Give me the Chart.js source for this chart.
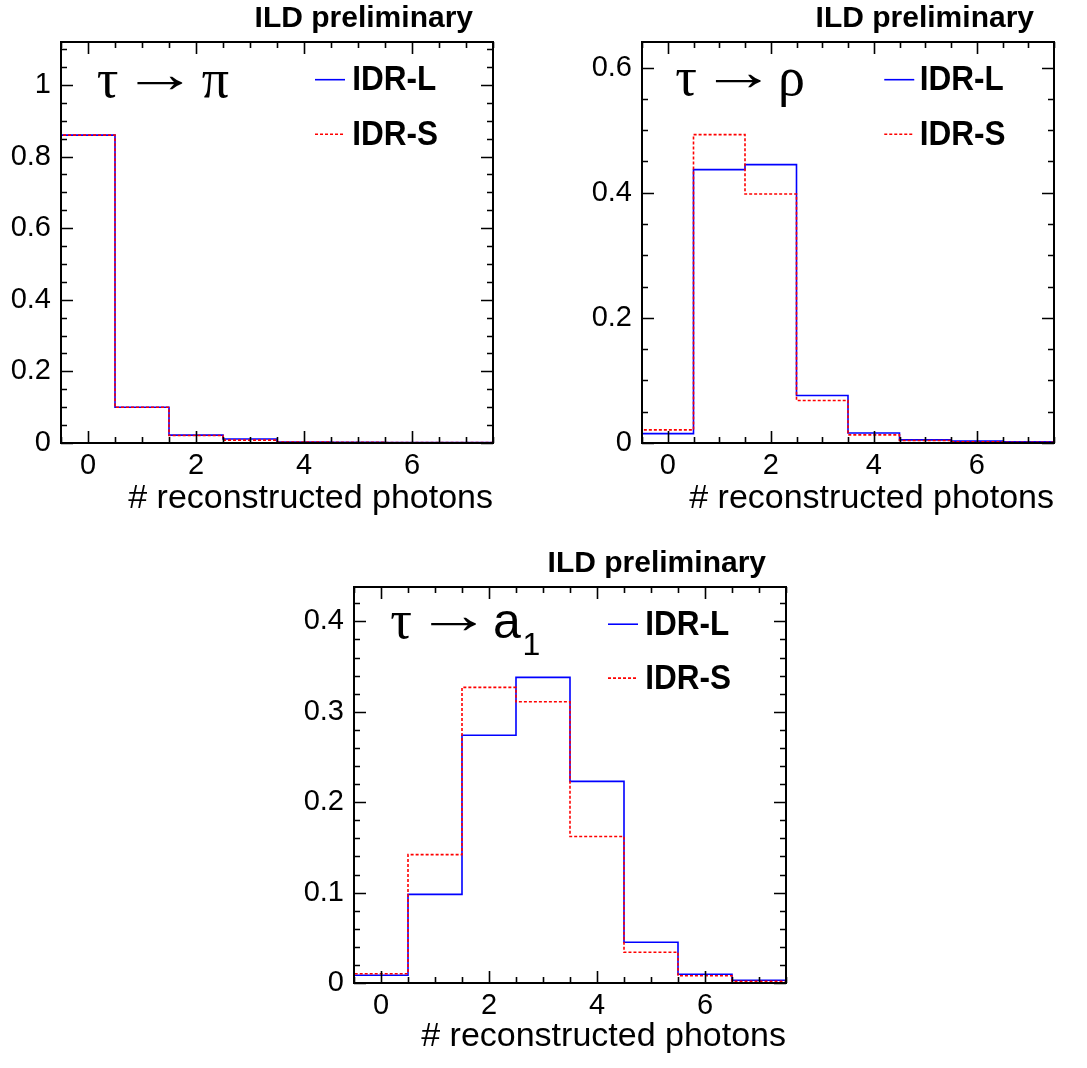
<!DOCTYPE html>
<html>
<head>
<meta charset="utf-8">
<script src="https://cdn.jsdelivr.net/npm/chart.js"></script>
<style>
  body { margin: 0; background: #fff; }
  #page { position: relative; width: 1087px; height: 1068px; background: #fff; }
  .panel { position: absolute; }
</style>
</head>
<body>
<div id="page">
  <div class="panel" style="left:0px;top:0px;width:520px;height:530px"><canvas id="piChart"></canvas></div>
  <div class="panel" style="left:560px;top:0px;width:527px;height:530px"><canvas id="rhoChart"></canvas></div>
  <div class="panel" style="left:280px;top:540px;width:527px;height:528px"><canvas id="a1Chart"></canvas></div>
</div>
<script>
// bins: number of reconstructed photons
const binCenters = [0, 1, 2, 3, 4, 5, 6, 7];
const xTickLabels = [0, 2, 4, 6];

// tau -> pi
const piIdrL = [0.860, 0.100, 0.022, 0.011, 0.003, 0.002, 0.001, 0.001];
const piIdrS = [0.860, 0.100, 0.021, 0.008, 0.003, 0.002, 0.001, 0.001];
const piYTicks = [0, 0.2, 0.4, 0.6, 0.8, 1];

// tau -> rho
const rhoIdrL = [0.015, 0.437, 0.445, 0.076, 0.016, 0.005, 0.003, 0.002];
const rhoIdrS = [0.021, 0.493, 0.398, 0.068, 0.013, 0.004, 0.002, 0.001];
const rhoYTicks = [0, 0.2, 0.4, 0.6];

// tau -> a1
const a1IdrL = [0.0085, 0.098, 0.274, 0.338, 0.223, 0.045, 0.0096, 0.003];
const a1IdrS = [0.0103, 0.142, 0.327, 0.311, 0.162, 0.034, 0.008, 0.002];
const a1YTicks = [0, 0.1, 0.2, 0.3, 0.4];

const seriesNames = ['IDR-L', 'IDR-S'];

// histogram outline: start at left edge of first bin, step through bins, drop at the end
function histPoints(values) {
  const pts = [{ x: binCenters[0] - 0.5, y: 0 }];
  values.forEach((v, i) => pts.push({ x: binCenters[i] - 0.5, y: v }));
  pts.push({ x: binCenters[binCenters.length - 1] + 0.5, y: 0 });
  return pts;
}

const SANS = '"Liberation Sans", Arial, sans-serif';
const SERIF = '"Liberation Serif", "DejaVu Serif", serif';

// ROOT-like frame, inside ticks, labels and legend
const rootFrame = {
  id: 'rootFrame',
  afterDraw(chart, args, opts) {
    const ctx = chart.ctx;
    const a = chart.chartArea;
    const xs = chart.scales.x, ys = chart.scales.y;
    const W = a.right - a.left, H = a.bottom - a.top;
    ctx.save();
    ctx.strokeStyle = '#000';
    ctx.lineWidth = 1.6;
    ctx.beginPath();
    // x ticks (minor every 0.5, major on labels)
    for (let v = xs.min; v <= xs.max + 1e-9; v += opts.xMinor) {
      const px = Math.round(xs.getPixelForValue(v)) + 0.5;
      const major = xTickLabels.some(t => Math.abs(t - v) < 1e-6);
      const len = major ? 12 : 6;
      ctx.moveTo(px, a.bottom); ctx.lineTo(px, a.bottom - len);
      ctx.moveTo(px, a.top); ctx.lineTo(px, a.top + len);
    }
    for (let v = 0; v <= ys.max + 1e-9; v += opts.yMinor) {
      const py = Math.round(ys.getPixelForValue(v)) + 0.5;
      const major = opts.yTicks.some(t => Math.abs(t - v) < 1e-6);
      const len = major ? 12 : 6;
      ctx.moveTo(a.left, py); ctx.lineTo(a.left + len, py);
      ctx.moveTo(a.right, py); ctx.lineTo(a.right - len, py);
    }
    ctx.stroke();
    ctx.lineWidth = 2;
    ctx.strokeRect(a.left, a.top, W, H);

    // header
    ctx.fillStyle = '#000';
    ctx.font = 'bold 30px ' + SANS;
    ctx.textAlign = 'right';
    ctx.textBaseline = 'alphabetic';
    ctx.fillText('ILD preliminary', a.right - 20, a.top - 15);

    // decay label
    ctx.textAlign = 'left';
    opts.decay.forEach(p => {
      ctx.save();
      ctx.translate(a.left + p.x * W, a.top + opts.decayBase * H + (p.dy || 0));
      ctx.scale(p.sx || 1, 1);
      ctx.font = p.font;
      ctx.fillText(p.text, 0, 0);
      ctx.restore();
    });

    // legend (ROOT bold text is a bit taller and narrower)
    ctx.textBaseline = 'middle';
    chart.data.datasets.forEach((ds, i) => {
      const y = a.top + (i === 0 ? 0.094 : 0.23) * H;
      const x0 = a.left + 0.588 * W;
      ctx.save();
      ctx.strokeStyle = ds.borderColor;
      ctx.lineWidth = ds.borderWidth;
      ctx.setLineDash(ds.borderDash || []);
      ctx.beginPath();
      ctx.moveTo(x0, y); ctx.lineTo(x0 + 30, y);
      ctx.stroke();
      ctx.restore();
      ctx.save();
      ctx.translate(a.left + 0.674 * W, y + 1);
      ctx.scale(0.9, 1);
      ctx.font = 'bold 35px ' + SANS;
      ctx.fillText(ds.label, 0, 0);
      ctx.restore();
    });
    ctx.restore();
  }
};

function makeChart(id, idrL, idrS, yMax, yTicks, yMinor, cfg) {
  return new Chart(document.getElementById(id), {
    type: 'line',
    data: {
      datasets: [
        {
          label: seriesNames[0],
          data: histPoints(idrL),
          borderColor: '#0000ff',
          borderWidth: 1.6,
          stepped: 'before',
          pointRadius: 0,
          fill: false,
          order: 1
        },
        {
          label: seriesNames[1],
          data: histPoints(idrS),
          borderColor: '#ff0000',
          borderWidth: 1.6,
          borderDash: [3, 2],
          stepped: 'before',
          pointRadius: 0,
          fill: false,
          order: 0
        }
      ]
    },
    options: {
      responsive: true,
      maintainAspectRatio: false,
      animation: false,
      layout: { padding: { top: cfg.padTop, right: cfg.padRight, left: 0, bottom: 0 } },
      plugins: {
        legend: { display: false },
        tooltip: { enabled: false },
        rootFrame: { xMinor: 0.5, yMinor: yMinor, yTicks: yTicks, decay: cfg.decay, decayBase: cfg.decayBase }
      },
      scales: {
        x: {
          type: 'linear',
          min: -0.5,
          max: 7.5,
          grid: { display: false, drawTicks: false },
          border: { display: false },
          afterBuildTicks: s => { s.ticks = xTickLabels.map(v => ({ value: v })); },
          afterFit: s => { s.height = cfg.xAxisHeight; s.paddingLeft = 0; s.paddingRight = 0; },
          ticks: { color: '#000', padding: 6, font: { family: SANS, size: 29 }, maxRotation: 0 },
          title: {
            display: true,
            text: '# reconstructed photons',
            align: 'end',
            color: '#000',
            font: { family: SANS, size: 34 },
            padding: { top: 0, bottom: 11 }
          }
        },
        y: {
          min: 0,
          max: yMax,
          grid: { display: false, drawTicks: false },
          border: { display: false },
          afterBuildTicks: s => { s.ticks = yTicks.map(v => ({ value: v })); },
          afterFit: s => { s.width = cfg.yAxisWidth; s.paddingTop = 0; s.paddingBottom = 0; },
          ticks: {
            color: '#000',
            padding: 10,
            font: { family: SANS, size: 29 },
            callback: v => String(+v.toFixed(2))
          }
        }
      }
    },
    plugins: [rootFrame]
  });
}

const greek = '54px ' + SERIF;
const arrow = '54px ' + SERIF;

makeChart('piChart', piIdrL, piIdrS, 1.12, piYTicks, 0.05, {
  padTop: 42, padRight: 27, yAxisWidth: 61, xAxisHeight: 87, decayBase: 0.137,
  decay: [
    { text: 'τ', font: greek, x: 0.083 },
    { text: '→', font: arrow, x: 0.141, sx: 1.4, dy: -5 },
    { text: 'π', font: greek, x: 0.326 }
  ]
});

makeChart('rhoChart', rhoIdrL, rhoIdrS, 0.641, rhoYTicks, 0.05, {
  padTop: 42, padRight: 33, yAxisWidth: 82, xAxisHeight: 87, decayBase: 0.133,
  decay: [
    { text: 'τ', font: greek, x: 0.081 },
    { text: '→', font: arrow, x: 0.142, sx: 1.4, dy: -5 },
    { text: 'ρ', font: greek, x: 0.33 }
  ]
});

makeChart('a1Chart', a1IdrL, a1IdrS, 0.438, a1YTicks, 0.02, {
  padTop: 47, padRight: 21, yAxisWidth: 74, xAxisHeight: 85, decayBase: 0.129,
  decay: [
    { text: 'τ', font: greek, x: 0.084 },
    { text: '→', font: arrow, x: 0.143, sx: 1.4, dy: -5 },
    { text: 'a', font: '50px ' + SANS, x: 0.322 },
    { text: '1', font: '32px ' + SANS, x: 0.39, dy: 17 }
  ]
});
</script>
</body>
</html>
